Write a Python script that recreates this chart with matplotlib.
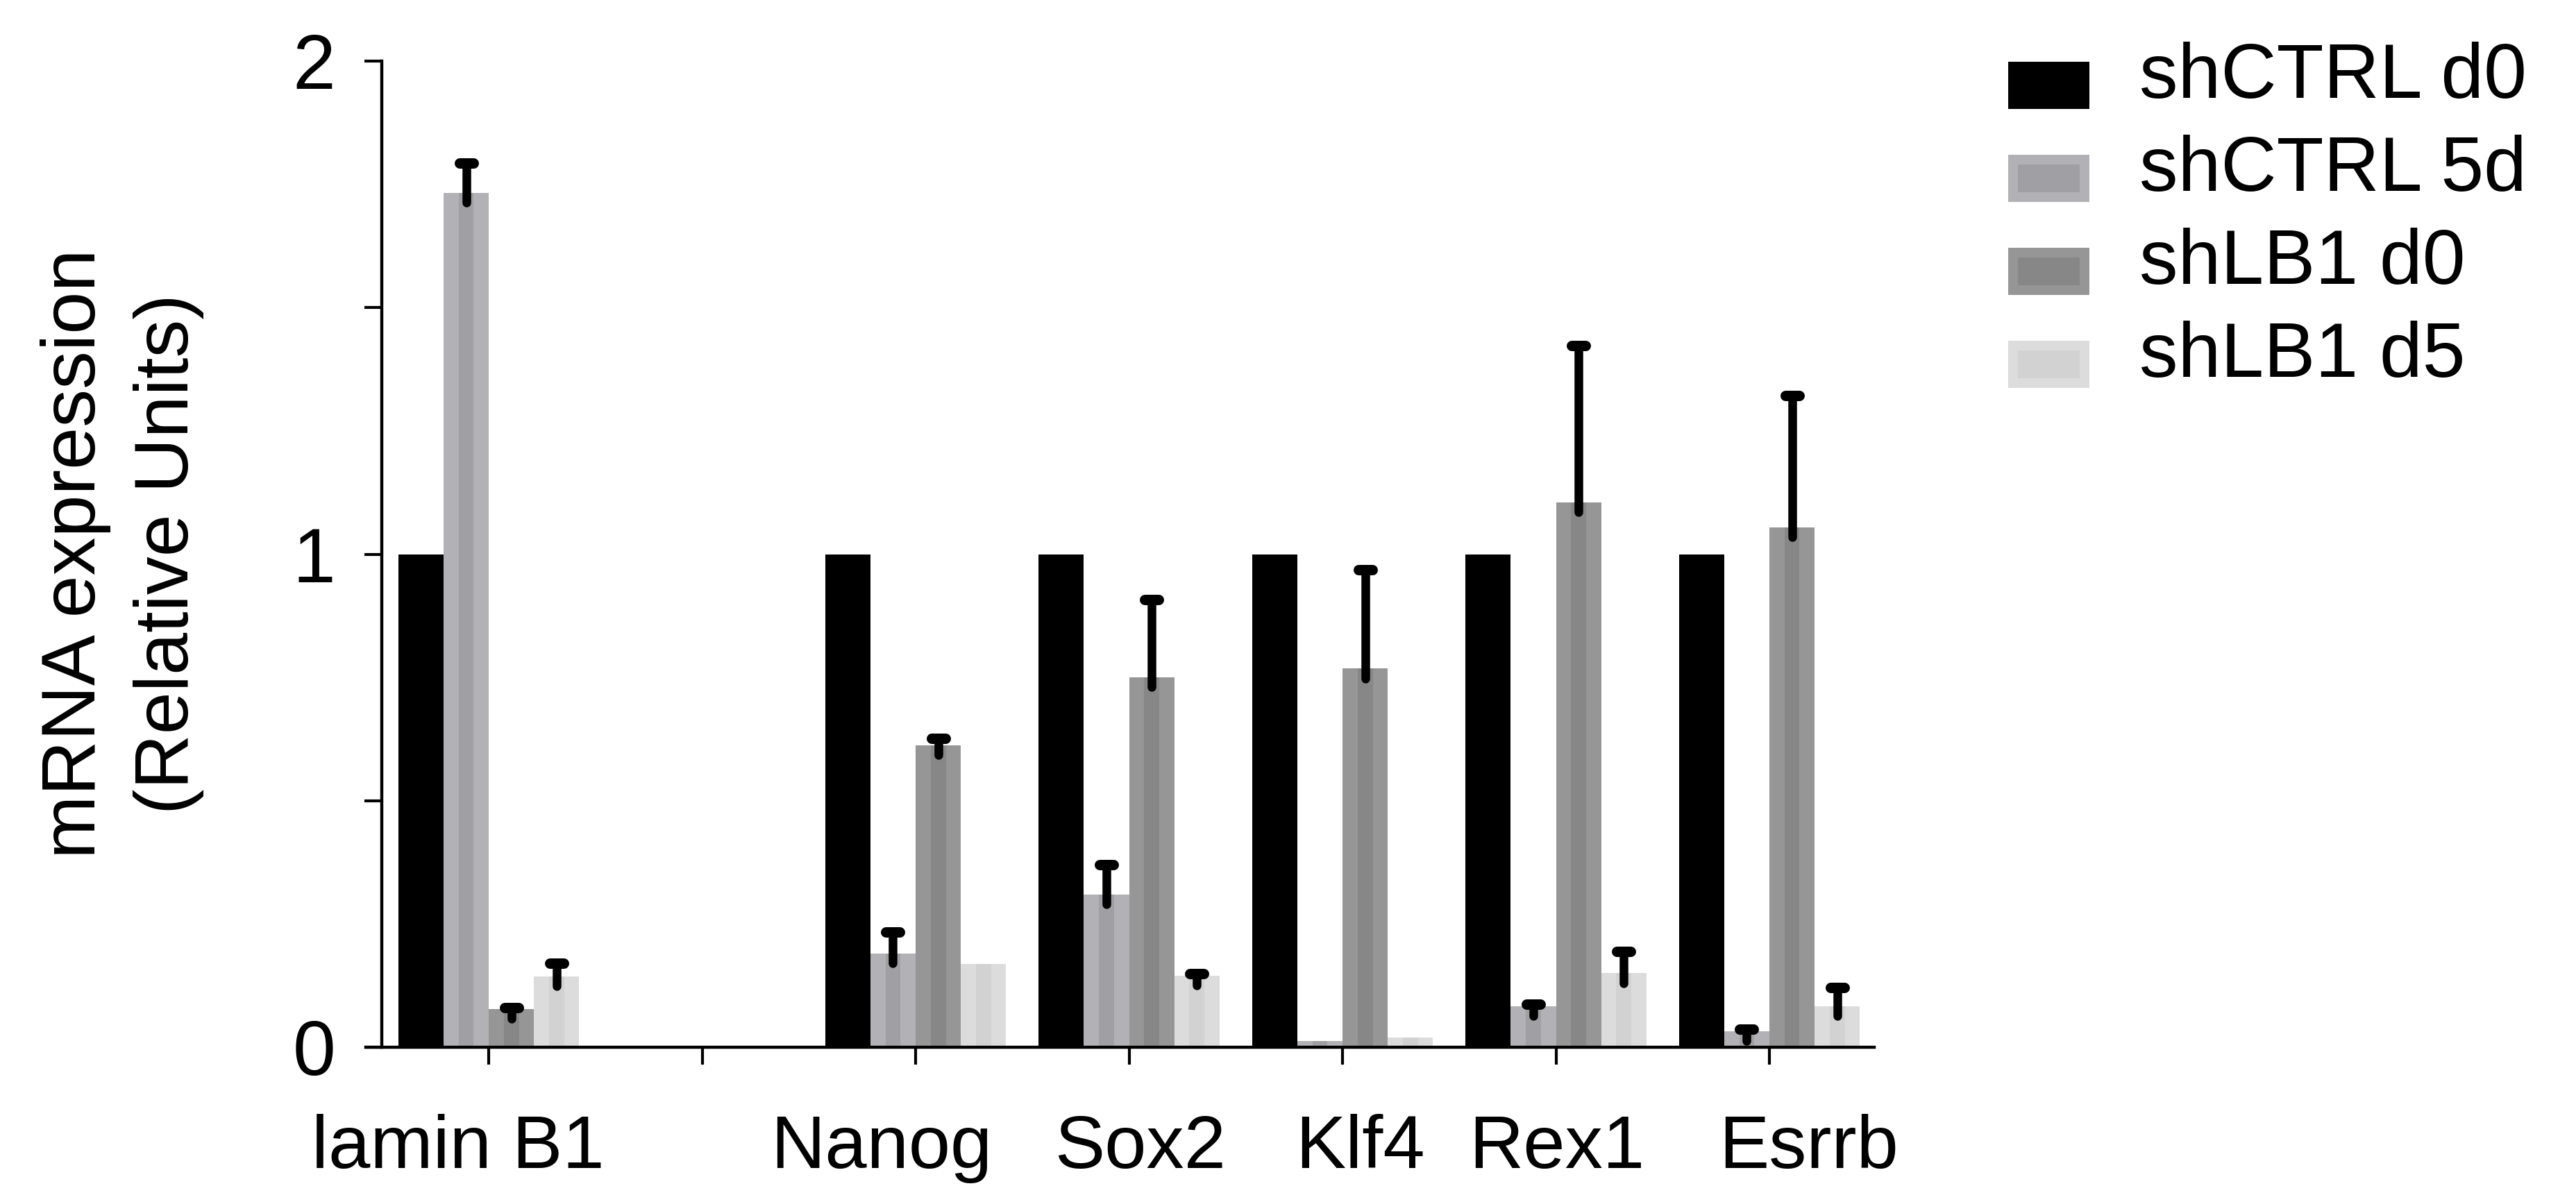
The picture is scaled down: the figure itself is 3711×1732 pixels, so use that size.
import numpy as np
import matplotlib
matplotlib.use("Agg")
import matplotlib.pyplot as plt
from matplotlib.markers import MarkerStyle
from matplotlib.patches import Rectangle

plt.rcParams['font.family'] = ['Liberation Sans', 'DejaVu Sans']

# data
genes = ["lamin B1", "", "Nanog", "Sox2", "Klf4", "Rex1", "Esrrb"]
series = ["shCTRL d0", "shCTRL 5d", "shLB1 d0", "shLB1 d5"]

shctrl_d0 = [1.0, np.nan, 1.0, 1.0, 1.0, 1.0, 1.0]
shctrl_5d = [1.733, np.nan, 0.19, 0.31, 0.012, 0.083, 0.032]
shlb1_d0 = [0.078, np.nan, 0.612, 0.75, 0.768, 1.105, 1.054]
shlb1_d5 = [0.144, np.nan, 0.169, 0.145, 0.02, 0.15, 0.083]

shctrl_d0_err = [0, 0, 0, 0, 0, 0, 0]
shctrl_5d_err = [0.06, 0, 0.044, 0.06, 0, 0.004, 0.004]
shlb1_d0_err = [0.002, 0, 0.014, 0.158, 0.2, 0.318, 0.268]
shlb1_d5_err = [0.027, 0, 0, 0.004, 0, 0.044, 0.038]

values = [shctrl_d0, shctrl_5d, shlb1_d0, shlb1_d5]
errors = [shctrl_d0_err, shctrl_5d_err, shlb1_d0_err, shlb1_d5_err]

# styling
outer_col = ['#000000', '#b2b2b6', '#969696', '#dcdcdc']
core_col = ['#000000', '#a0a0a4', '#878787', '#d2d2d2']
label_shift = [-0.143, 0, -0.16, 0.052, 0.081, 0.003, 0.185]

W, H = 3711, 1732
fig = plt.figure(figsize=(W / 100, H / 100), dpi=100)
ax = fig.add_axes([527 / W, 1 - 1509 / H, (2700 - 527) / W, (1509 - 88) / H])

x = np.arange(len(genes))
bw = 0.212
offsets = (np.arange(4) - 1.5) * bw

for i in range(4):
    v = np.array(values[i], dtype=float)
    e = np.array(errors[i], dtype=float)
    ax.bar(x + offsets[i], v, width=bw, color=outer_col[i], linewidth=0, zorder=2)
    ax.bar(x + offsets[i], v, width=bw / 3, color=core_col[i], linewidth=0, zorder=2.1)
    m = e > 0
    if m.any():
        xs = (x + offsets[i])[m]
        ys = v[m]
        eb = ax.errorbar(xs, ys, yerr=[np.full(m.sum(), 0.02), e[m]], fmt='none',
                         ecolor='black', elinewidth=9, capsize=0, zorder=3)
        eb[2][0].set_capstyle('round')
        ax.plot(xs, ys + e[m], ls='none', color='black',
                marker=MarkerStyle('_', capstyle='round'), ms=14, mew=10.8, zorder=3.1)

ax.set_xlim(-0.576, 6.491)
ax.set_ylim(0, 2)
for s in ['top', 'right']:
    ax.spines[s].set_visible(False)
ax.spines['left'].set_position(('data', -0.5))
for s in ['left', 'bottom']:
    ax.spines[s].set_linewidth(3.2)

ax.set_yticks([0, 0.5, 1, 1.5, 2])
ax.set_yticklabels(['0', '', '1', '', '2'])
ax.set_xticks(x)
ax.set_xticklabels([''] * len(genes))
ax.tick_params(axis='both', direction='out', length=18, width=3, color='black')
ax.tick_params(axis='y', labelsize=80, pad=30)

# gene labels, placed by hand as in the original
for xi, name, dx in zip(x, genes, label_shift):
    ax.text(xi + dx, -174 / 1421, name, transform=ax.get_xaxis_transform(),
            ha='center', va='baseline', fontsize=78)

# y label (two lines)
fig.text(137.5 / W, 1 - 798 / H, 'mRNA expression', rotation=90,
         rotation_mode='anchor', ha='center', va='baseline', fontsize=79)
fig.text(271 / W, 1 - 798 / H, '(Relative Units)', rotation=90,
         rotation_mode='anchor', ha='center', va='baseline', fontsize=79)

# legend drawn by hand
for i, name in enumerate(series):
    base = 141 + i * 134
    cy = base - 18
    band = 14
    rect = Rectangle(((2893 + band / 2) / W, 1 - (cy + 34 - band / 2) / H),
                     (117 - band) / W, (68 - band) / H, transform=fig.transFigure,
                     facecolor=core_col[i], edgecolor=outer_col[i], linewidth=band * 0.72)
    fig.add_artist(rect)
    fig.text(3082 / W, 1 - base / H, name, ha='left', va='baseline', fontsize=80)

fig.savefig('out.png', dpi=100)
